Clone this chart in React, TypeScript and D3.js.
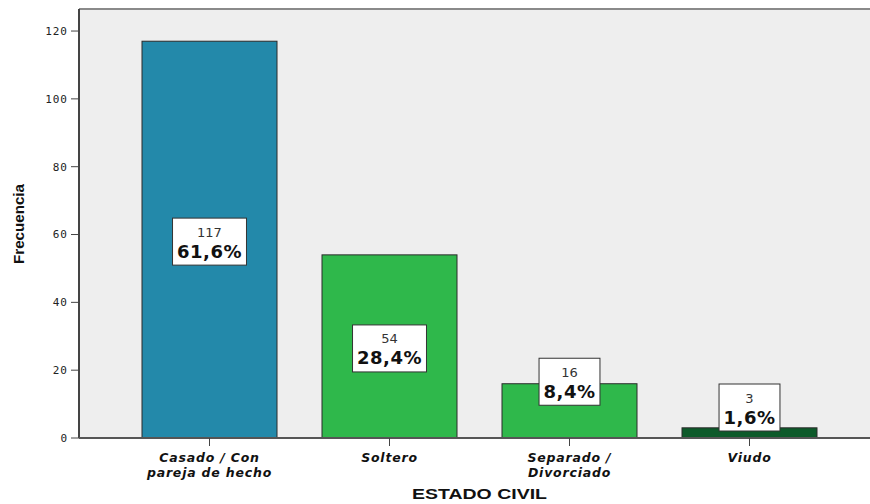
import React, { useEffect, useRef } from "react";
import * as d3 from "d3";

const categories = ["Casado / Con\npareja de hecho", "Soltero", "Separado /\nDivorciado", "Viudo"];
const counts = [117, 54, 16, 3];
const percents = ["61,6%", "28,4%", "8,4%", "1,6%"];
const colors = ["#2389aa", "#2fb84b", "#2fb84b", "#0d5a2a"];
const yTicks = [0, 20, 40, 60, 80, 100, 120];

const W = 870, H = 504;
const plot = { left: 79, right: 870, top: 9, bottom: 438 };

export default function App() {
  const ref = useRef<SVGSVGElement>(null);
  useEffect(() => {
    const svg = d3.select(ref.current);
    svg.selectAll("*").remove();
    const y = d3.scaleLinear().domain([0, 126.5]).range([plot.bottom, plot.top]);
    const x = d3.scaleBand<number>().domain(d3.range(categories.length)).range([119.5, 839.5]).paddingInner(0.25).paddingOuter(0.125);

    svg.append("rect").attr("x", plot.left).attr("y", plot.top).attr("width", plot.right - plot.left).attr("height", plot.bottom - plot.top).attr("fill", "#eeeeee");
    svg.append("line").attr("x1", plot.left).attr("x2", plot.right).attr("y1", plot.top).attr("y2", plot.top).attr("stroke", "#8a8a8a").attr("stroke-width", 2);

    svg.selectAll("rect.bar").data(counts).enter().append("rect")
      .attr("class", "bar")
      .attr("x", (_, i) => x(i)!)
      .attr("width", x.bandwidth())
      .attr("y", d => y(d))
      .attr("height", d => plot.bottom - y(d))
      .attr("fill", (_, i) => colors[i])
      .attr("stroke", "#2a2a2a").attr("stroke-width", 1);

    const ya = svg.append("g");
    ya.append("line").attr("x1", plot.left).attr("x2", plot.left).attr("y1", plot.top).attr("y2", plot.bottom).attr("stroke", "#444").attr("stroke-width", 2);
    yTicks.forEach(t => {
      ya.append("line").attr("x1", plot.left - 8).attr("x2", plot.left).attr("y1", y(t)).attr("y2", y(t)).attr("stroke", "#444").attr("stroke-width", 1);
      ya.append("text").attr("x", plot.left - 11).attr("y", y(t)).attr("dy", "0.35em").attr("text-anchor", "end")
        .attr("font-family", "DejaVu Sans Mono").attr("font-size", 11).attr("letter-spacing", 1).attr("fill", "#222").text(t);
    });

    svg.append("line").attr("x1", plot.left).attr("x2", plot.right).attr("y1", plot.bottom).attr("y2", plot.bottom).attr("stroke", "#555").attr("stroke-width", 2);
    categories.forEach((c, i) => {
      const cx = x(i)! + x.bandwidth() / 2;
      svg.append("line").attr("x1", cx).attr("x2", cx).attr("y1", plot.bottom).attr("y2", plot.bottom + 8).attr("stroke", "#444");
      c.split("\n").forEach((line, k) => {
        svg.append("text").attr("x", cx).attr("y", 461.5 + k * 15).attr("text-anchor", "middle")
          .attr("font-family", "DejaVu Sans").attr("font-style", "italic").attr("font-weight", "bold")
          .attr("font-size", 12.5).attr("letter-spacing", 0.8).attr("fill", "#111").text(line);
      });
    });

    counts.forEach((d, i) => {
      const cx = x(i)! + x.bandwidth() / 2;
      const barPx = plot.bottom - y(d);
      const boxH = 47;
      let cy = barPx > 60 ? y(d / 2) + 2 : y(d) - 2;
      cy = Math.min(cy, plot.bottom - 7 - boxH / 2);
      const g = svg.append("g");
      const rect = g.append("rect").attr("fill", "#fff").attr("stroke", "#333").attr("stroke-width", 1);
      g.append("text").attr("x", cx).attr("y", cy - 5).attr("text-anchor", "middle").attr("font-family", "DejaVu Sans").attr("font-size", 13).attr("fill", "#333").text(d);
      const pt = g.append("text").attr("x", cx).attr("y", cy + 16).attr("text-anchor", "middle").attr("font-family", "DejaVu Sans").attr("font-weight", "bold").attr("font-size", 18).attr("letter-spacing", 0.5).attr("fill", "#111").text(percents[i]);
      const tw = (pt.node() as SVGTextElement).getComputedTextLength();
      const bw = tw + 9;
      rect.attr("x", cx - bw / 2).attr("y", cy - boxH / 2).attr("width", bw).attr("height", boxH);
    });

    svg.append("text").attr("transform", `translate(24,${224}) rotate(-90)`).attr("text-anchor", "middle")
      .attr("font-family", "Liberation Sans").attr("font-weight", "bold").attr("font-size", 14)
      .attr("textLength", 80).attr("lengthAdjust", "spacingAndGlyphs").attr("fill", "#111").text("Frecuencia");
    svg.append("text").attr("x", 479.5).attr("y", 499).attr("text-anchor", "middle")
      .attr("font-family", "Liberation Sans").attr("font-weight", "bold").attr("font-size", 14.5)
      .attr("textLength", 135).attr("lengthAdjust", "spacingAndGlyphs").attr("fill", "#111").text("ESTADO CIVIL");
  }, []);
  return <svg ref={ref} width={W} height={H} style={{ display: "block", position: "absolute", left: 0, top: 0 }} />;
}
